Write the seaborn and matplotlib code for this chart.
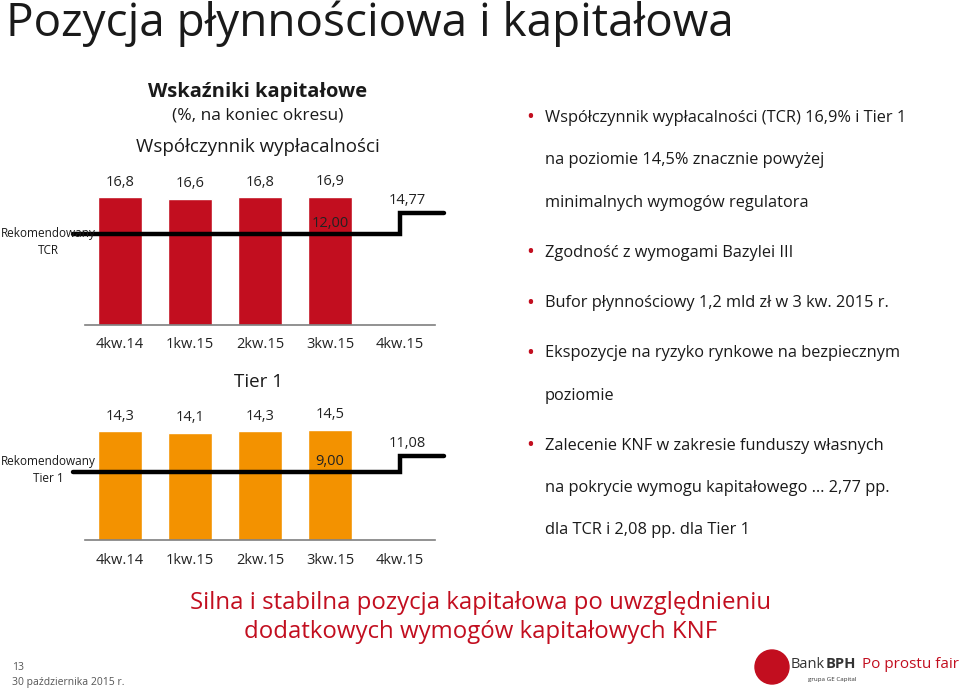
import numpy as np
import pandas as pd
import matplotlib
matplotlib.use("Agg")
import matplotlib.pyplot as plt
from matplotlib.patches import Ellipse
import seaborn as sns

# data
quarters = ["4kw.14", "1kw.15", "2kw.15", "3kw.15", "4kw.15"]
tcr = [16.8, 16.6, 16.8, 16.9, np.nan]
tier1 = [14.3, 14.1, 14.3, 14.5, np.nan]
rec_tcr = [12.00, 12.00, 12.00, 12.00, 14.77]
rec_tier1 = [9.00, 9.00, 9.00, 9.00, 11.08]

bullets = [
    ["Współczynnik wypłacalności (TCR) 16,9% i Tier 1",
     "na poziomie 14,5% znacznie powyżej",
     "minimalnych wymogów regulatora"],
    ["Zgodność z wymogami Bazylei III"],
    ["Bufor płynnościowy 1,2 mld zł w 3 kw. 2015 r."],
    ["Ekspozycje na ryzyko rynkowe na bezpiecznym",
     "poziomie"],
    ["Zalecenie KNF w zakresie funduszy własnych",
     "na pokrycie wymogu kapitałowego … 2,77 pp.",
     "dla TCR i 2,08 pp. dla Tier 1"],
]

RED = "#C20E1F"
ORANGE = "#F39200"
W, H = 960, 689

sns.set_theme(style="white")
plt.rcParams["font.family"] = ["Open Sans", "DejaVu Sans"]

fig = plt.figure(figsize=(W / 100, H / 100), dpi=100)
fig.patch.set_facecolor("white")


def px(x, y):
    return x / W, 1 - y / H


def fmt(v, d):
    return f"{v:.{d}f}".replace(".", ",")


def draw_panel(ax, values, rec, color):
    df = pd.DataFrame({"kw": quarters, "val": values})
    sns.barplot(data=df, x="kw", y="val", order=quarters, color=color,
                saturation=1, width=0.63, ax=ax)
    ax.set_xlim(-0.5, 4.5)
    ax.set_ylim(0, 20)
    for i, v in enumerate(values):
        if not np.isnan(v):
            ax.text(i, v + 1.0, fmt(v, 1), ha="center", va="bottom",
                    fontsize=10.5, color="#222222")
    # recommended level as a step line reaching outside the axes
    xs = [-0.67] + list(range(len(rec))) + [4.63]
    ys = [rec[0]] + rec + [rec[-1]]
    ax.plot(xs, ys, drawstyle="steps-post", color="black", lw=3.2,
            clip_on=False, solid_joinstyle="miter")
    ax.text(3, rec[3] + 0.4, fmt(rec[3], 2), ha="center", va="bottom",
            fontsize=10.5, color="#222222")
    ax.text(4.1, rec[4] + 0.6, fmt(rec[4], 2), ha="center", va="bottom",
            fontsize=10.5, color="#222222")
    ax.set_xlabel("")
    ax.set_ylabel("")
    ax.set_yticks([])
    for s in ["top", "right", "left"]:
        ax.spines[s].set_visible(False)
    ax.spines["bottom"].set_color("#7f7f7f")
    ax.spines["bottom"].set_linewidth(1.2)
    ax.tick_params(axis="x", length=0, pad=9, labelsize=10.5,
                   labelcolor="#222222")
    ax.patch.set_alpha(0)


ax1 = fig.add_axes([85 / W, 1 - 325 / H, 350 / W, 152 / H])
draw_panel(ax1, tcr, rec_tcr, RED)
ax2 = fig.add_axes([85 / W, 1 - 540 / H, 350 / W, 152 / H])
draw_panel(ax2, tier1, rec_tier1, ORANGE)

# titles
fig.text(*px(6, 24), "Pozycja płynnościowa i kapitałowa", fontsize=33,
         va="center", ha="left", color="#1a1a1a")
fig.text(*px(258, 92), "Wskaźniki kapitałowe", fontsize=14.5,
         fontweight="bold", ha="center", va="center", color="#1a1a1a")
fig.text(*px(258, 115), "(%, na koniec okresu)", fontsize=12.5,
         ha="center", va="center", color="#1a1a1a")
fig.text(*px(258, 147), "Współczynnik wypłacalności", fontsize=13.5,
         ha="center", va="center", color="#1a1a1a")
fig.text(*px(258, 382), "Tier 1", fontsize=13.5,
         ha="center", va="center", color="#1a1a1a")

fig.text(*px(48, 242), "Rekomendowany\nTCR", fontsize=8.5, ha="center",
         va="center", linespacing=1.35, color="#1a1a1a")
fig.text(*px(48, 470), "Rekomendowany\nTier 1", fontsize=8.5, ha="center",
         va="center", linespacing=1.35, color="#1a1a1a")

# right-hand bullet list
y = 118
for block in bullets:
    fig.text(*px(530, y), "•", fontsize=15, color=RED, ha="center",
             va="center")
    for line in block:
        fig.text(*px(545, y), line, fontsize=11.8, ha="left", va="center",
                 color="#1a1a1a")
        y += 42.5
    y += 7.5

# conclusion
fig.text(*px(481, 603), "Silna i stabilna pozycja kapitałowa po uwzględnieniu",
         fontsize=17.3, ha="center", va="center", color=RED)
fig.text(*px(481, 632), "dodatkowych wymogów kapitałowych KNF",
         fontsize=17.3, ha="center", va="center", color=RED)

# footer
fig.text(*px(12, 668), "13", fontsize=7.5, color="#555555", va="center")
fig.text(*px(12, 682), "30 października 2015 r.", fontsize=7.5,
         color="#555555", va="center")
fig.patches.append(Ellipse(px(772, 667), 34 / W, 34 / H, color=RED,
                           transform=fig.transFigure, figure=fig))
fig.text(*px(791, 664), "Bank", fontsize=10.5, color="#333333",
         va="center", ha="left")
fig.text(*px(826, 664), "BPH", fontsize=10.5, color="#333333",
         fontweight="bold", va="center", ha="left")
fig.text(*px(808, 679), "grupa GE Capital", fontsize=4.5, color="#333333",
         va="center", ha="left")
fig.text(*px(862, 664), "Po prostu fair", fontsize=11, color=RED,
         va="center", ha="left")

fig.savefig("out.png", dpi=100)
